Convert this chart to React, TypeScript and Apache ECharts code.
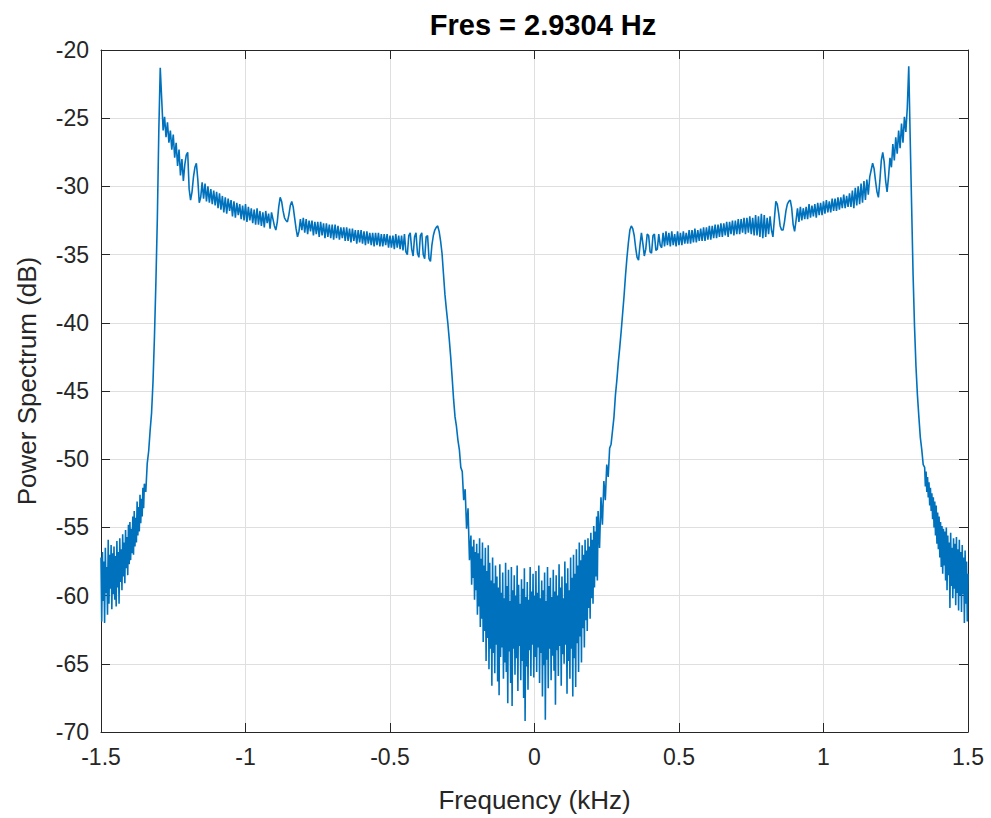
import React, { useEffect, useRef } from "react";
import * as echarts from "echarts";

// ---- Data ----
const titleText = "Fres = 2.9304 Hz";
const xAxisName = "Frequency (kHz)";
const yAxisName = "Power Spectrum (dB)";

const xTickValues = [-1.5, -1, -0.5, 0, 0.5, 1, 1.5];
const yTickValues = [-70, -65, -60, -55, -50, -45, -40, -35, -30, -25, -20];

// Left skirt noise, -1.500 .. -1.350 kHz, step 0.0025
const leftSkirtNoiseStart = -1.5;
const leftSkirtNoiseStep = 0.0025;
const leftSkirtNoiseDb = [
  -57.2, -61.9, -56.8, -60.4, -57.5, -62.0, -56.5, -59.8, -57.9, -61.4,
  -55.9, -60.6, -57.0, -59.5, -56.3, -61.0, -56.9, -59.9, -56.4, -60.3,
  -57.1, -60.8, -56.0, -59.4, -56.8, -60.6, -55.8, -59.0, -56.6, -59.6,
  -55.5, -58.6, -56.1, -59.1, -55.2, -58.0, -55.7, -58.5, -54.8, -57.7,
  -54.6, -57.4, -55.1, -56.9, -54.2, -57.0, -53.8, -56.4, -54.3, -56.1,
  -53.1, -55.6, -53.5, -55.3, -52.6, -54.7, -52.9, -54.2, -52.1, -53.6,
  -51.8,
];

// Left skirt rise, -1.345 .. -1.300 kHz, step 0.005
const leftSkirtRiseStart = -1.345;
const leftSkirtRiseStep = 0.005;
const leftSkirtRiseDb = [-52.4, -50.3, -49.4, -47.9, -46.6, -44.3, -41.0, -37.0, -32.3, -26.0];

// Left shoulder, -1.295 .. -0.345 kHz, step 0.005
const leftShoulderStart = -1.295;
const leftShoulderStep = 0.005;
const leftShoulderDb = [
  -21.3, -23.6, -25.9, -24.9, -26.4, -25.3, -26.8, -25.9, -27.3, -26.2,
  -27.9, -26.8, -28.5, -27.3, -29.2, -28.0, -29.6, -28.4, -27.7, -27.5,
  -30.2, -31.0, -30.4, -29.3, -28.6, -28.3, -29.5, -31.2, -30.8, -29.7,
  -30.9, -29.8, -31.1, -30.0, -31.2, -30.2, -31.3, -30.3, -31.4, -30.4,
  -31.6, -30.5, -31.7, -30.7, -31.9, -30.8, -32.0, -30.9, -31.8, -31.0,
  -32.2, -31.1, -32.3, -31.2, -32.1, -31.3, -32.4, -31.4, -32.5, -31.3,
  -32.6, -31.5, -32.5, -31.6, -32.7, -31.7, -32.8, -31.6, -32.8, -31.8,
  -32.9, -31.9, -33.0, -31.8, -32.7, -32.0, -33.1, -31.9, -32.4, -32.9,
  -33.2, -32.6, -31.5, -30.8, -31.1, -31.8, -32.3, -32.5, -32.6, -32.1,
  -31.4, -31.1, -31.5, -32.3, -33.1, -33.7, -33.3, -32.4, -33.2, -32.3,
  -33.4, -32.4, -33.5, -32.5, -33.3, -32.5, -33.6, -32.6, -33.5, -32.6,
  -33.7, -32.6, -33.6, -32.7, -33.8, -32.7, -33.7, -32.8, -33.8, -32.8,
  -33.9, -32.8, -33.8, -32.9, -33.9, -33.0, -33.8, -33.0, -34.0, -33.0,
  -34.0, -33.1, -34.1, -33.1, -34.0, -33.2, -34.2, -33.2, -34.1, -33.2,
  -34.2, -33.3, -34.3, -33.3, -34.2, -33.4, -34.3, -33.4, -34.4, -33.4,
  -34.3, -33.4, -34.4, -33.5, -34.4, -33.5, -34.3, -33.5, -34.5, -33.6,
  -34.5, -33.6, -34.6, -33.5, -34.5, -33.6, -34.6, -33.6, -34.7, -33.5,
  -34.8, -35.0, -33.6, -33.4, -34.6, -35.1, -33.7, -33.4, -34.9, -35.2,
  -33.6, -33.4, -35.0, -35.3, -33.7, -33.6, -35.3, -35.5, -34.3, -33.6,
  -33.2,
];

// Centre, left fall, -0.340 .. -0.225 kHz, step 0.005
const centerFallStart = -0.34;
const centerFallStep = 0.005;
const centerFallDb = [
  -33.0, -32.9, -33.3, -34.0, -34.9, -36.4, -37.9, -39.0, -40.0, -41.2,
  -42.5, -44.0, -45.6, -46.9, -47.6, -48.6, -49.3, -50.6, -50.9, -53.0,
  -52.2, -55.1, -53.6, -57.4,
];

// Centre, noise floor, -0.220 .. 0.220 kHz, step 0.0025
const centerCoreStart = -0.22;
const centerCoreStep = 0.0025;
const centerCoreDb = [
  -55.6, -59.2, -56.4, -58.7, -55.9, -60.3, -56.8, -59.6, -56.2, -61.4,
  -56.9, -60.8, -55.8, -62.3, -57.3, -61.7, -56.1, -63.4, -57.8, -62.6,
  -56.5, -64.8, -58.2, -63.1, -56.3, -65.4, -57.6, -63.9, -58.9, -66.6,
  -57.2, -64.2, -59.1, -65.7, -57.8, -63.6, -58.6, -66.3, -59.4, -67.3,
  -57.7, -64.5, -59.8, -63.8, -58.3, -66.1, -60.2, -64.9, -57.6, -65.6,
  -59.3, -67.9, -58.1, -64.1, -60.4, -66.4, -57.9, -68.1, -59.6, -63.9,
  -58.5, -65.8, -60.0, -64.6, -57.8, -67.0, -59.2, -63.7, -60.6, -66.2,
  -58.8, -64.8, -59.5, -67.5, -58.0, -69.2, -60.1, -65.2, -59.0, -66.9,
  -60.3, -64.0, -57.9, -65.9, -59.7, -63.6, -58.4, -66.0, -60.0, -64.5,
  -58.2, -65.6, -59.8, -63.8, -57.8, -66.4, -60.2, -64.2, -58.9, -67.4,
  -59.6, -65.1, -58.3, -69.1, -60.4, -64.7, -57.9, -66.8, -59.3, -63.9,
  -58.7, -66.2, -60.1, -64.4, -58.1, -65.5, -59.7, -68.0, -58.5, -64.0,
  -60.0, -65.9, -57.7, -63.7, -59.4, -66.6, -58.6, -64.3, -60.2, -65.0,
  -57.5, -63.6, -59.1, -67.2, -58.0, -64.8, -59.6, -66.1, -57.2, -63.9,
  -58.7, -67.4, -57.0, -64.6, -58.4, -66.7, -56.6, -63.5, -57.8, -65.6,
  -56.1, -63.0, -57.4, -64.9, -56.3, -62.4, -57.0, -63.8, -55.9, -61.8,
  -56.7, -62.6, -55.8, -60.9, -56.4, -61.7, -55.4, -60.2, -55.9, -60.6,
  -54.9, -59.4, -55.3, -58.6, -54.2, -58.9, -53.8,
];

// Centre, right rise, 0.225 .. 0.340 kHz, step 0.005
const centerRiseStart = 0.225;
const centerRiseStep = 0.005;
const centerRiseDb = [
  -56.5, -52.8, -54.8, -51.6, -53.0, -50.4, -51.3, -49.2, -48.9, -47.9,
  -46.9, -45.3, -44.2, -42.9, -41.8, -40.6, -39.3, -38.0, -36.5, -35.2,
  -34.1, -33.2, -32.9, -33.1,
];

// Right shoulder, 0.345 .. 1.295 kHz, step 0.005
const rightShoulderStart = 0.345;
const rightShoulderStep = 0.005;
const rightShoulderDb = [
  -33.6, -34.5, -35.2, -35.4, -34.3, -33.4, -34.2, -35.1, -34.6, -33.5,
  -33.6, -34.8, -34.9, -33.6, -33.5, -34.7, -34.6, -33.5, -34.3, -34.5,
  -33.4, -34.4, -33.3, -34.3, -33.4, -34.4, -33.3, -34.3, -33.5, -34.4,
  -33.3, -34.3, -33.4, -34.3, -33.3, -34.2, -33.4, -34.2, -33.2, -34.2,
  -33.2, -34.1, -33.1, -34.1, -33.2, -34.0, -33.1, -34.0, -33.0, -34.0,
  -33.0, -33.9, -32.9, -33.9, -32.9, -33.8, -32.8, -33.8, -32.8, -33.7,
  -32.7, -33.7, -32.7, -33.6, -32.6, -33.7, -32.6, -33.5, -32.5, -33.6,
  -32.5, -33.5, -32.4, -33.5, -32.4, -33.4, -32.3, -33.5, -32.3, -33.4,
  -32.2, -33.5, -32.3, -33.6, -32.1, -33.6, -32.2, -33.7, -32.0, -33.8,
  -32.1, -33.7, -32.3, -33.5, -32.2, -33.2, -33.7, -32.4, -31.1, -31.3,
  -32.0, -32.9, -33.2, -33.2, -32.6, -31.8, -31.3, -31.1, -31.0, -31.6,
  -32.8, -33.3, -32.5, -31.6, -32.6, -31.5, -32.5, -31.6, -32.4, -31.5,
  -32.4, -31.3, -32.3, -31.4, -32.2, -31.3, -32.3, -31.2, -32.1, -31.2,
  -32.1, -31.1, -32.0, -31.0, -31.9, -31.1, -31.9, -30.9, -31.8, -30.9,
  -31.8, -30.8, -31.7, -30.8, -31.6, -30.6, -31.6, -30.7, -31.5, -30.5,
  -31.5, -30.3, -31.6, -30.1, -31.4, -30.0, -31.3, -29.8, -31.2, -29.6,
  -31.0, -29.5, -30.6, -29.3, -28.8, -28.3, -28.7, -29.6, -30.4, -30.8,
  -29.6, -28.1, -27.5, -28.2, -29.6, -30.4, -29.3, -27.9, -28.6, -26.9,
  -28.1, -26.4, -27.6, -25.9, -27.2, -25.4, -26.8, -24.9, -26.0, -24.2,
  -21.2,
];

// Right skirt fall, 1.300 .. 1.345 kHz, step 0.005
const rightSkirtFallStart = 1.3;
const rightSkirtFallStep = 0.005;
const rightSkirtFallDb = [-26.5, -31.5, -36.5, -40.3, -43.2, -45.3, -46.9, -48.4, -49.3, -50.4];

// Right skirt noise, 1.350 .. 1.500 kHz, step 0.0025
const rightSkirtNoiseStart = 1.35;
const rightSkirtNoiseStep = 0.0025;
const rightSkirtNoiseDb = [
  -50.6, -52.0, -50.9, -52.4, -51.3, -52.8, -51.7, -53.4, -52.1, -53.8,
  -52.5, -54.4, -52.8, -55.0, -53.1, -55.6, -53.4, -56.2, -53.9, -56.6,
  -54.2, -57.2, -54.6, -57.9, -54.9, -58.4, -55.1, -57.8, -55.3, -58.9,
  -55.0, -59.6, -55.6, -58.5, -56.1, -60.9, -55.4, -59.3, -56.5, -60.2,
  -55.8, -59.5, -56.2, -60.7, -55.7, -59.8, -56.6, -61.1, -55.9, -60.0,
  -56.8, -61.2, -56.3, -59.9, -57.2, -62.0, -56.7, -60.6, -57.5, -61.9,
  -58.4,
];

// ---- Styling ----
const FONT = '"Liberation Sans", Arial, Helvetica, sans-serif';
const AXIS_COLOR = "#262626";
const GRID_COLOR = "#dfdfdf";
const LINE_COLOR = "#0072BD";

function segment(start: number, step: number, values: number[]) {
  return values.map((v, i) => [Number((start + i * step).toFixed(5)), v]);
}

const spectrum = [
  ...segment(leftSkirtNoiseStart, leftSkirtNoiseStep, leftSkirtNoiseDb),
  ...segment(leftSkirtRiseStart, leftSkirtRiseStep, leftSkirtRiseDb),
  ...segment(leftShoulderStart, leftShoulderStep, leftShoulderDb),
  ...segment(centerFallStart, centerFallStep, centerFallDb),
  ...segment(centerCoreStart, centerCoreStep, centerCoreDb),
  ...segment(centerRiseStart, centerRiseStep, centerRiseDb),
  ...segment(rightShoulderStart, rightShoulderStep, rightShoulderDb),
  ...segment(rightSkirtFallStart, rightSkirtFallStep, rightSkirtFallDb),
  ...segment(rightSkirtNoiseStart, rightSkirtNoiseStep, rightSkirtNoiseDb),
];

const X_MIN = xTickValues[0];
const X_MAX = xTickValues[xTickValues.length - 1];
const X_STEP = xTickValues[1] - xTickValues[0];
const Y_MIN = yTickValues[0];
const Y_MAX = yTickValues[yTickValues.length - 1];
const Y_STEP = yTickValues[1] - yTickValues[0];

export default function App() {
  const ref = useRef<HTMLDivElement | null>(null);

  useEffect(() => {
    if (!ref.current) return;
    const chart = echarts.init(ref.current, undefined, { renderer: "svg" });
    const tickLabel = { fontFamily: FONT, fontSize: 23, color: AXIS_COLOR };
    const boxAxisLine = { show: true, onZero: false, lineStyle: { color: AXIS_COLOR, width: 1 } };
    const boxTick = { show: true, inside: true, length: 9, lineStyle: { color: AXIS_COLOR, width: 1 } };

    chart.setOption({
      animation: false,
      backgroundColor: "#ffffff",
      title: {
        text: titleText,
        left: 538,
        top: 5,
        textAlign: "center",
        textStyle: { fontFamily: FONT, fontSize: 29, fontWeight: "bold", color: "#000000" },
      },
      graphic: [
        {
          type: "text",
          x: 27,
          y: 381,
          rotation: Math.PI / 2,
          silent: true,
          style: {
            text: yAxisName,
            font: `26px ${FONT}`,
            fill: AXIS_COLOR,
            textAlign: "center",
            textVerticalAlign: "middle",
          },
        },
      ],
      grid: { left: 101, right: 23, top: 50, bottom: 84, containLabel: false },
      xAxis: [
        {
          type: "value",
          position: "bottom",
          min: X_MIN,
          max: X_MAX,
          interval: X_STEP,
          name: xAxisName,
          nameLocation: "middle",
          nameGap: 55,
          nameTextStyle: { fontFamily: FONT, fontSize: 26, color: AXIS_COLOR },
          axisLine: boxAxisLine,
          axisTick: boxTick,
          axisLabel: { ...tickLabel, margin: 13 },
          splitLine: { show: true, lineStyle: { color: GRID_COLOR, width: 1 } },
        },
        {
          type: "value",
          position: "top",
          min: X_MIN,
          max: X_MAX,
          interval: X_STEP,
          axisLine: boxAxisLine,
          axisTick: boxTick,
          axisLabel: { show: false },
          splitLine: { show: false },
        },
      ],
      yAxis: [
        {
          type: "value",
          position: "left",
          min: Y_MIN,
          max: Y_MAX,
          interval: Y_STEP,
          axisLine: boxAxisLine,
          axisTick: boxTick,
          axisLabel: { ...tickLabel, margin: 12 },
          splitLine: { show: true, lineStyle: { color: GRID_COLOR, width: 1 } },
        },
        {
          type: "value",
          position: "right",
          min: Y_MIN,
          max: Y_MAX,
          interval: Y_STEP,
          axisLine: boxAxisLine,
          axisTick: boxTick,
          axisLabel: { show: false },
          splitLine: { show: false },
        },
      ],
      series: [
        {
          type: "line",
          xAxisIndex: 0,
          yAxisIndex: 0,
          data: spectrum,
          showSymbol: false,
          symbol: "none",
          silent: true,
          lineStyle: { color: LINE_COLOR, width: 1.6 },
        },
      ],
    });

    return () => {
      chart.dispose();
    };
  }, []);

  return (
    <div
      ref={ref}
      style={{ position: "fixed", left: 0, top: 0, width: 991, height: 818, background: "#fff" }}
    />
  );
}
